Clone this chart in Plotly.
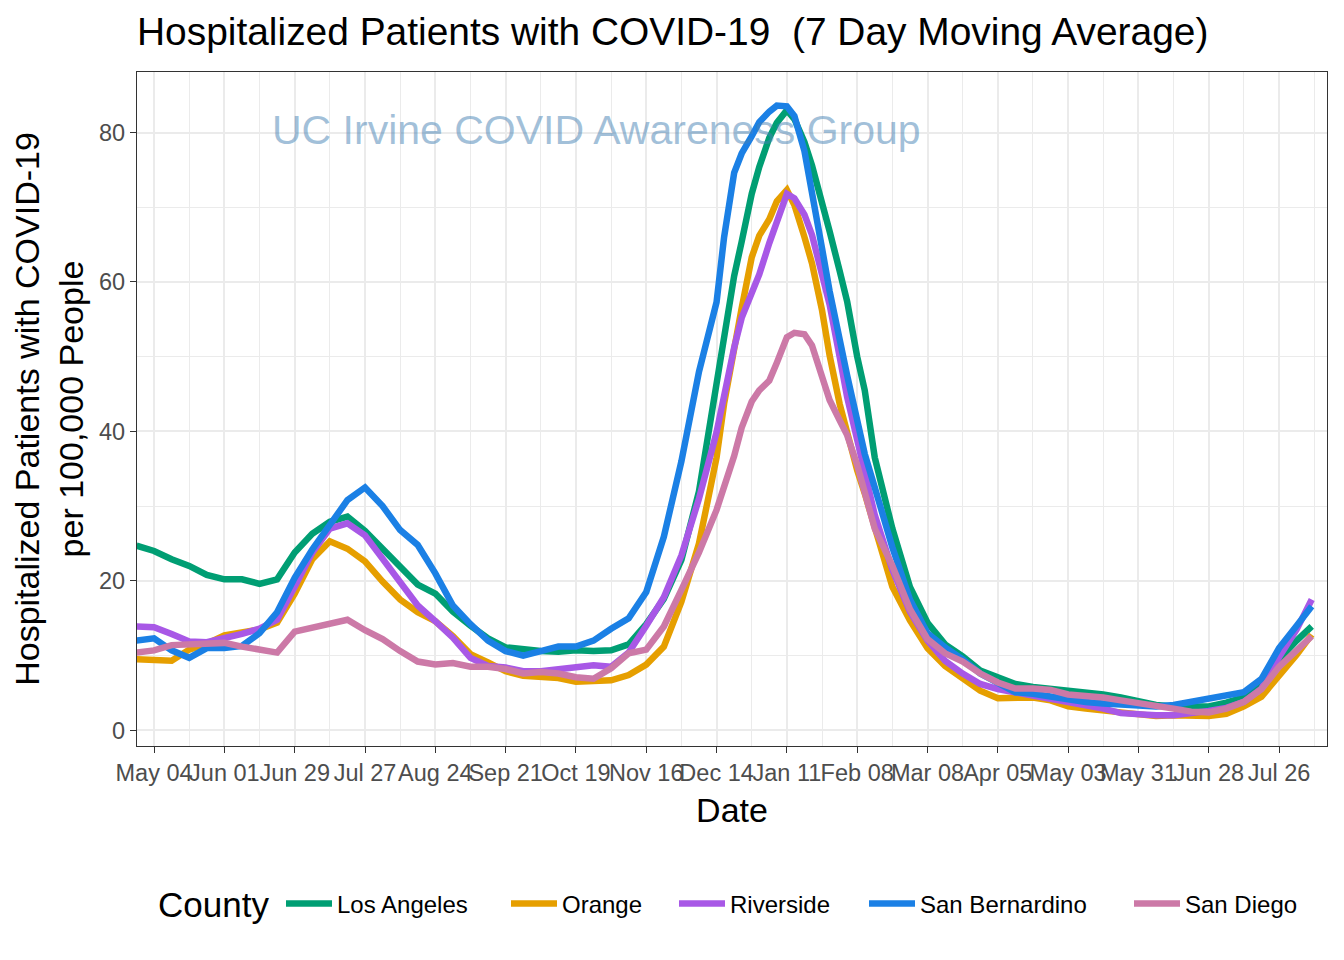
import plotly.graph_objects as go

dates = [
    "2020-04-27", "2020-05-04", "2020-05-11", "2020-05-18", "2020-05-25", "2020-06-01", "2020-06-08",
    "2020-06-15", "2020-06-22", "2020-06-29", "2020-07-06", "2020-07-13", "2020-07-20", "2020-07-27",
    "2020-08-03", "2020-08-10", "2020-08-17", "2020-08-24", "2020-08-31", "2020-09-07", "2020-09-14",
    "2020-09-21", "2020-09-28", "2020-10-05", "2020-10-12", "2020-10-19", "2020-10-26", "2020-11-02",
    "2020-11-09", "2020-11-16", "2020-11-23", "2020-11-30", "2020-12-07", "2020-12-14",
    "2020-12-17", "2020-12-21", "2020-12-24", "2020-12-28", "2020-12-31", "2021-01-04", "2021-01-07",
    "2021-01-11", "2021-01-14", "2021-01-18", "2021-01-21", "2021-01-25", "2021-01-28", "2021-02-01",
    "2021-02-04", "2021-02-08", "2021-02-11", "2021-02-15",
    "2021-02-22", "2021-03-01", "2021-03-08", "2021-03-15", "2021-03-22", "2021-03-29", "2021-04-05",
    "2021-04-12", "2021-04-19", "2021-04-26", "2021-05-03", "2021-05-10", "2021-05-17", "2021-05-24",
    "2021-05-31", "2021-06-07", "2021-06-14", "2021-06-21", "2021-06-28", "2021-07-05", "2021-07-12",
    "2021-07-19", "2021-07-26", "2021-08-02", "2021-08-08",
]

los_angeles = [
    24.7, 24.0, 22.9, 22.0, 20.8, 20.2, 20.2, 19.6, 20.2, 23.8, 26.3, 27.9, 28.6, 26.7, 24.3, 21.9, 19.5,
    18.3, 15.9, 14.0, 12.3, 11.1, 10.8, 10.6, 10.5, 10.7, 10.6, 10.7, 11.5, 14.2, 17.6, 22.8, 32.0, 46.0,
    52.7, 60.8, 65.4, 71.8, 75.4, 79.3, 81.3, 83.0, 81.8, 78.7, 75.6, 70.8, 66.8, 61.5, 57.4, 50.0, 45.5, 36.5,
    27.0, 19.2, 14.4, 11.5, 9.9, 8.0, 7.1, 6.2, 5.8, 5.6, 5.2, 5.0, 4.8, 4.4, 3.9, 3.4, 3.2, 3.2, 3.2, 3.7,
    4.4, 6.0, 9.5, 12.0, 13.9,
]
orange = [
    9.5, 9.4, 9.3, 10.8, 11.6, 12.7, 13.1, 13.5, 14.4, 18.3, 22.9, 25.3, 24.3, 22.6, 19.9, 17.5, 15.8,
    14.6, 12.6, 10.2, 9.1, 7.9, 7.3, 7.2, 7.0, 6.5, 6.5, 6.7, 7.4, 8.8, 11.2, 17.2, 25.0, 36.5,
    43.7, 51.7, 56.5, 63.3, 66.2, 68.4, 70.8, 72.3, 70.3, 66.0, 62.5, 56.2, 50.2, 43.7, 39.5, 34.8, 31.7, 27.4,
    19.2, 14.7, 11.0, 8.6, 6.9, 5.3, 4.3, 4.3, 4.4, 4.0, 3.2, 2.9, 2.7, 2.5, 2.1, 1.9, 2.0, 2.0, 1.9, 2.2,
    3.2, 4.5, 7.2, 10.1, 12.8,
]
riverside = [
    13.9, 13.8, 12.9, 11.9, 11.8, 12.3, 12.9, 13.6, 14.8, 19.2, 23.8, 27.0, 27.7, 26.1, 22.9, 19.8, 16.7,
    14.6, 12.4, 9.7, 8.6, 8.4, 7.9, 7.9, 8.2, 8.6, 8.7, 8.5, 10.4, 14.0, 17.8, 23.4, 31.0, 39.9,
    45.0, 51.2, 55.2, 58.3, 61.0, 65.2, 68.0, 71.8, 71.2, 69.0, 66.3, 61.0, 57.0, 50.0, 44.6, 38.9, 34.8, 28.8,
    21.5, 15.9, 12.0, 9.3, 7.6, 6.2, 5.5, 5.1, 4.6, 4.2, 3.9, 3.4, 2.9, 2.3, 2.1, 2.0, 2.0, 2.2, 2.6, 3.0,
    3.8, 5.6, 9.8, 13.5, 17.5,
]
san_bernardino = [
    12.0, 12.3, 10.7, 9.7, 11.0, 11.0, 11.3, 13.0, 15.8, 20.4, 24.2, 27.6, 30.8, 32.5, 30.0, 26.8, 24.8,
    21.0, 16.7, 14.2, 12.0, 10.6, 10.0, 10.6, 11.2, 11.2, 12.0, 13.6, 15.0, 18.5, 25.9, 36.0, 48.0, 57.3,
    66.0, 74.6, 77.2, 79.5, 81.4, 82.8, 83.6, 83.5, 82.2, 77.5, 72.3, 64.5, 58.8, 52.0, 47.5, 41.5, 37.0, 32.5,
    24.5, 17.5, 13.0, 11.1, 9.5, 7.6, 6.4, 5.1, 4.9, 4.5, 4.1, 3.8, 3.6, 3.5, 3.3, 3.2, 3.4, 3.8, 4.1, 4.6,
    5.1, 6.9, 11.0, 14.0, 16.6,
]
san_diego = [
    10.4, 10.7, 11.4, 11.5, 11.7, 11.7, 11.2, 10.7, 10.4, 13.2, 13.8, 14.3, 14.8, 13.4, 12.2, 10.6, 9.2,
    8.8, 9.0, 8.5, 8.5, 8.2, 7.6, 7.8, 7.6, 7.1, 6.9, 8.3, 10.3, 10.8, 13.9, 18.8, 23.8, 29.5,
    32.5, 36.7, 40.5, 44.0, 45.5, 46.8, 49.2, 52.6, 53.2, 53.0, 51.5, 47.4, 44.2, 41.5, 39.5, 35.5, 31.5, 27.0,
    22.0, 16.2, 12.2, 10.3, 9.2, 7.6, 6.4, 5.6, 5.6, 5.4, 4.8, 4.7, 4.4, 4.0, 3.7, 3.3, 2.9, 2.5, 2.4, 2.9,
    3.8, 5.5, 8.5, 10.7, 12.6,
]

counties = ["Los Angeles", "Orange", "Riverside", "San Bernardino", "San Diego"]
series = [los_angeles, orange, riverside, san_bernardino, san_diego]
colors = ["#009E73", "#E69F00", "#A858E6", "#1B80E5", "#CC79A7"]

tick_dates = [
    "2020-05-04", "2020-06-01", "2020-06-29", "2020-07-27", "2020-08-24", "2020-09-21", "2020-10-19",
    "2020-11-16", "2020-12-14", "2021-01-11", "2021-02-08", "2021-03-08", "2021-04-05", "2021-05-03",
    "2021-05-31", "2021-06-28", "2021-07-26",
]
tick_labels = [
    "May 04", "Jun 01", "Jun 29", "Jul 27", "Aug 24", "Sep 21", "Oct 19", "Nov 16", "Dec 14", "Jan 11",
    "Feb 08", "Mar 08", "Apr 05", "May 03", "May 31", "Jun 28", "Jul 26",
]
y_ticks = [0, 20, 40, 60, 80]

FONT = "Liberation Sans, Arial, Helvetica, sans-serif"
OFF = 8  # page body margin in the browser
WIN_W, WIN_H = 1344, 960
W, H = WIN_W - OFF, WIN_H - OFF
PL, PR, PT, PB = 137, 1327, 72, 746  # panel edges in window px


def px_x(px):
    return (px - PL) / (PR - PL)


def px_y(py):
    return (PB - py) / (PB - PT)


fig = go.Figure()
legend_names = ["legend", "legend2", "legend3", "legend4", "legend5"]
for name, vals, col, lg in zip(counties, series, colors, legend_names):
    fig.add_trace(go.Scatter(
        x=dates, y=vals, mode="lines", name=name,
        line=dict(color=col, width=6.5),
        legend=lg, showlegend=True,
    ))

# label start positions (px) of each legend entry
label_starts = [338, 563, 731, 921, 1186]
ITEMW = 46
layout_legends = {}
for lg, ls in zip(legend_names, label_starts):
    layout_legends[lg] = dict(
        x=px_x(ls - ITEMW - 11), y=px_y(904), xanchor="left", yanchor="middle",
        orientation="h", font=dict(family=FONT, size=24, color="black"),
        bgcolor="rgba(0,0,0,0)", borderwidth=0, itemwidth=ITEMW,
    )

grid_major = "#EBEBEB"

fig.update_layout(
    width=W, height=H,
    paper_bgcolor="white", plot_bgcolor="white",
    margin=dict(l=PL - OFF, r=WIN_W - PR, t=PT - OFF, b=WIN_H - PB, pad=0),
    font=dict(family=FONT, color="black"),
    title=dict(
        text="Hospitalized Patients with COVID-19  (7 Day Moving Average)",
        x=(PL - OFF) / W, xanchor="left", xref="container",
        y=1 - (31 - OFF) / H, yanchor="middle", yref="container",
        font=dict(family=FONT, size=38.9, color="black"),
    ),
    xaxis=dict(
        type="date",
        range=["2020-04-27 05:00", "2021-08-14 02:00"],
        tickmode="array", tickvals=tick_dates, ticktext=tick_labels, tickangle=0,
        ticks="outside", ticklen=6, tickwidth=1.2, tickcolor="#333333",
        tickfont=dict(family=FONT, size=23.5, color="#4D4D4D"),
        showgrid=True, gridcolor=grid_major, gridwidth=1.6,
        minor=dict(showgrid=True, gridcolor=grid_major, gridwidth=0.8,
                   tick0="2020-05-04", dtick=14 * 86400000, ticks=""),
        showline=True, linecolor="#333333", linewidth=1.2, mirror=True,
        zeroline=False,
        title=dict(text="Date", font=dict(family=FONT, size=34, color="black"), standoff=12),
    ),
    yaxis=dict(
        range=[-2.1, 88.1],
        tickmode="array", tickvals=y_ticks,
        ticks="outside", ticklen=6, tickwidth=1.2, tickcolor="#333333",
        tickfont=dict(family=FONT, size=23.5, color="#4D4D4D"),
        showgrid=True, gridcolor=grid_major, gridwidth=1.6,
        minor=dict(showgrid=True, gridcolor=grid_major, gridwidth=0.8, tick0=0, dtick=10, ticks=""),
        showline=True, linecolor="#333333", linewidth=1.2, mirror=True,
        zeroline=False,
        title=dict(text="Hospitalized Patients with COVID-19<br>per 100,000 People",
                   font=dict(family=FONT, size=34, color="black"), standoff=12),
    ),
    **layout_legends,
)

fig.add_annotation(
    text="UC Irvine COVID Awareness Group",
    x="2020-10-27", y=80.3, xref="x", yref="y",
    showarrow=False, xanchor="center", yanchor="middle",
    font=dict(family=FONT, size=41, color="rgba(70,130,180,0.5)"),
)
fig.add_annotation(
    text="County", x=px_x(156), y=px_y(904), xref="paper", yref="paper",
    showarrow=False, xanchor="left", yanchor="middle",
    font=dict(family=FONT, size=35, color="black"),
)

fig.write_html("out.html")
